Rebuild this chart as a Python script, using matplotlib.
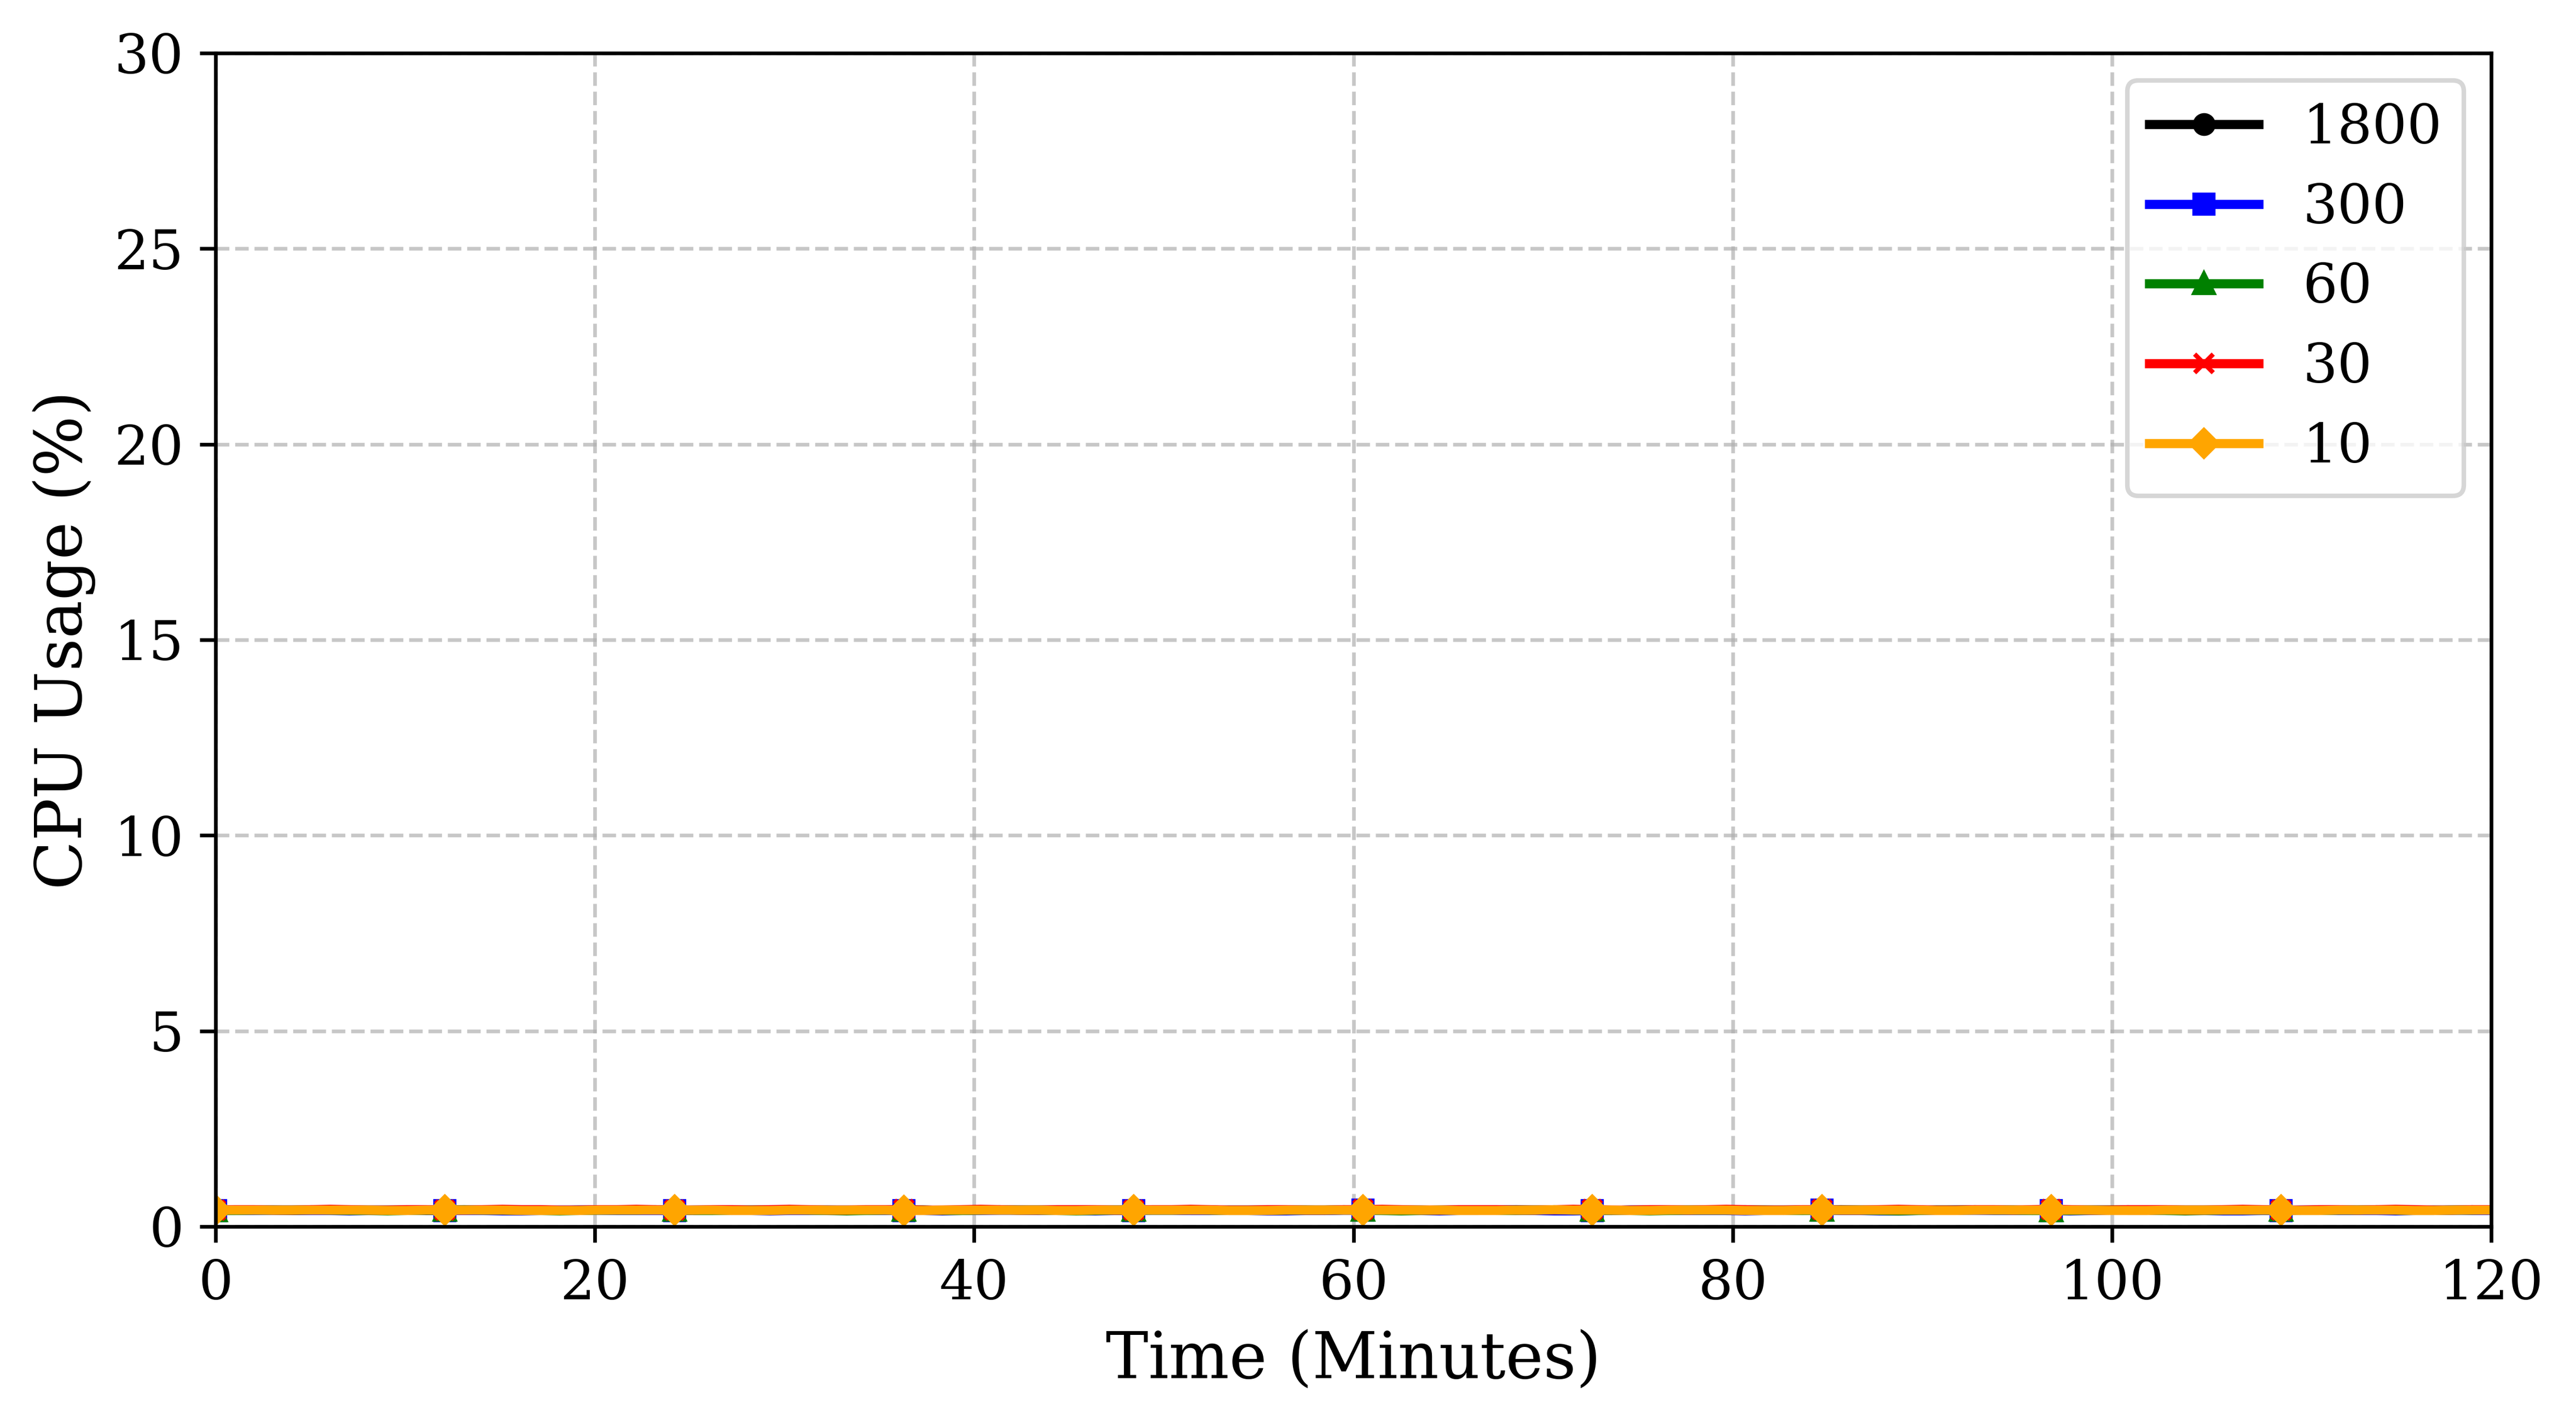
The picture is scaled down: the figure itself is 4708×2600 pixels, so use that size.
import numpy as np
import matplotlib
matplotlib.use("Agg")
import matplotlib.pyplot as plt

plt.rcParams['font.family'] = ['DejaVu Serif']

# Time axis: 120 samples spanning 0..120 minutes
time_min = np.linspace(0, 120, 120)

labels = ["1800", "300", "60", "30", "10"]
colors = ["black", "blue", "green", "red", "orange"]
markers = ["o", "s", "^", "x", "D"]

cpu_1800 = [
    0.42, 0.42, 0.42, 0.42, 0.41, 0.41, 0.42, 0.42, 0.42, 0.42, 0.42, 0.41,
    0.41, 0.42, 0.42, 0.42, 0.42, 0.41, 0.41, 0.42, 0.42, 0.42, 0.42, 0.42,
    0.42, 0.41, 0.41, 0.42, 0.42, 0.42, 0.43, 0.42, 0.42, 0.41, 0.42, 0.42,
    0.42, 0.42, 0.41, 0.41, 0.42, 0.42, 0.42, 0.42, 0.42, 0.41, 0.42, 0.42,
    0.42, 0.42, 0.42, 0.41, 0.41, 0.42, 0.42, 0.42, 0.42, 0.42, 0.41, 0.42,
    0.42, 0.42, 0.42, 0.42, 0.41, 0.41, 0.42, 0.42, 0.43, 0.42, 0.42, 0.42,
    0.41, 0.41, 0.42, 0.42, 0.42, 0.42, 0.42, 0.41, 0.41, 0.42, 0.42, 0.42,
    0.42, 0.43, 0.42, 0.42, 0.41, 0.41, 0.42, 0.42, 0.42, 0.42, 0.42, 0.41,
    0.42, 0.42, 0.42, 0.42, 0.41, 0.41, 0.42, 0.42, 0.42, 0.42, 0.42, 0.42,
    0.41, 0.41, 0.42, 0.42, 0.42, 0.42, 0.41, 0.41, 0.42, 0.42, 0.43, 0.42,
]
cpu_300 = [
    0.41, 0.41, 0.41, 0.42, 0.42, 0.41, 0.41, 0.40, 0.41, 0.41, 0.42, 0.42,
    0.41, 0.41, 0.41, 0.40, 0.40, 0.41, 0.42, 0.42, 0.42, 0.41, 0.41, 0.41,
    0.41, 0.42, 0.42, 0.41, 0.41, 0.40, 0.41, 0.41, 0.42, 0.42, 0.41, 0.41,
    0.41, 0.41, 0.40, 0.41, 0.41, 0.42, 0.42, 0.41, 0.41, 0.41, 0.40, 0.41,
    0.41, 0.42, 0.42, 0.41, 0.41, 0.41, 0.41, 0.40, 0.40, 0.41, 0.41, 0.42,
    0.42, 0.41, 0.41, 0.41, 0.40, 0.41, 0.41, 0.42, 0.42, 0.41, 0.40, 0.40,
    0.41, 0.41, 0.42, 0.42, 0.41, 0.41, 0.41, 0.41, 0.40, 0.41, 0.41, 0.42,
    0.42, 0.41, 0.41, 0.40, 0.40, 0.41, 0.41, 0.42, 0.42, 0.41, 0.41, 0.41,
    0.41, 0.40, 0.41, 0.41, 0.42, 0.42, 0.41, 0.41, 0.41, 0.40, 0.40, 0.41,
    0.41, 0.42, 0.42, 0.41, 0.41, 0.41, 0.40, 0.41, 0.41, 0.42, 0.41, 0.41,
]
cpu_60 = [
    0.41, 0.41, 0.42, 0.42, 0.42, 0.43, 0.42, 0.41, 0.41, 0.40, 0.41, 0.42,
    0.42, 0.43, 0.42, 0.42, 0.41, 0.41, 0.40, 0.41, 0.42, 0.42, 0.42, 0.43,
    0.42, 0.41, 0.41, 0.41, 0.42, 0.42, 0.43, 0.42, 0.41, 0.40, 0.41, 0.42,
    0.42, 0.42, 0.41, 0.41, 0.42, 0.43, 0.42, 0.42, 0.41, 0.40, 0.41, 0.42,
    0.42, 0.42, 0.42, 0.43, 0.42, 0.41, 0.41, 0.41, 0.42, 0.42, 0.42, 0.43,
    0.42, 0.41, 0.40, 0.41, 0.42, 0.42, 0.42, 0.41, 0.41, 0.42, 0.43, 0.42,
    0.42, 0.41, 0.41, 0.40, 0.41, 0.42, 0.42, 0.42, 0.43, 0.42, 0.41, 0.41,
    0.42, 0.42, 0.42, 0.41, 0.40, 0.41, 0.42, 0.42, 0.43, 0.42, 0.42, 0.41,
    0.41, 0.41, 0.42, 0.42, 0.43, 0.42, 0.41, 0.40, 0.41, 0.42, 0.42, 0.42,
    0.42, 0.41, 0.41, 0.42, 0.42, 0.43, 0.42, 0.41, 0.41, 0.42, 0.42, 0.43,
]
cpu_30 = [
    0.42, 0.43, 0.43, 0.42, 0.42, 0.43, 0.44, 0.43, 0.42, 0.42, 0.43, 0.43,
    0.42, 0.42, 0.43, 0.44, 0.43, 0.43, 0.42, 0.42, 0.43, 0.43, 0.44, 0.43,
    0.42, 0.42, 0.43, 0.43, 0.42, 0.43, 0.44, 0.43, 0.42, 0.42, 0.43, 0.43,
    0.43, 0.42, 0.42, 0.43, 0.44, 0.43, 0.42, 0.42, 0.43, 0.43, 0.43, 0.42,
    0.42, 0.43, 0.43, 0.44, 0.43, 0.42, 0.42, 0.43, 0.43, 0.42, 0.42, 0.43,
    0.43, 0.44, 0.43, 0.42, 0.42, 0.43, 0.43, 0.43, 0.42, 0.42, 0.43, 0.44,
    0.43, 0.42, 0.42, 0.43, 0.43, 0.42, 0.43, 0.44, 0.43, 0.42, 0.42, 0.43,
    0.43, 0.42, 0.42, 0.43, 0.44, 0.43, 0.42, 0.42, 0.43, 0.43, 0.42, 0.43,
    0.44, 0.43, 0.42, 0.42, 0.43, 0.43, 0.43, 0.42, 0.42, 0.43, 0.44, 0.43,
    0.42, 0.42, 0.43, 0.43, 0.42, 0.43, 0.44, 0.43, 0.42, 0.42, 0.43, 0.43,
]
cpu_10 = [
    0.42, 0.42, 0.42, 0.42, 0.42, 0.42, 0.42, 0.42, 0.42, 0.41, 0.41, 0.42,
    0.42, 0.42, 0.42, 0.42, 0.41, 0.41, 0.41, 0.41, 0.42, 0.42, 0.42, 0.42,
    0.42, 0.42, 0.42, 0.41, 0.41, 0.41, 0.42, 0.42, 0.42, 0.42, 0.42, 0.42,
    0.41, 0.41, 0.42, 0.42, 0.42, 0.42, 0.42, 0.42, 0.41, 0.41, 0.42, 0.42,
    0.42, 0.42, 0.42, 0.42, 0.42, 0.41, 0.41, 0.41, 0.42, 0.42, 0.42, 0.42,
    0.42, 0.42, 0.42, 0.42, 0.42, 0.41, 0.41, 0.41, 0.42, 0.42, 0.43, 0.42,
    0.42, 0.42, 0.41, 0.41, 0.42, 0.42, 0.42, 0.42, 0.41, 0.41, 0.41, 0.42,
    0.42, 0.42, 0.42, 0.42, 0.42, 0.42, 0.41, 0.41, 0.42, 0.42, 0.42, 0.42,
    0.42, 0.42, 0.42, 0.41, 0.41, 0.41, 0.42, 0.42, 0.42, 0.42, 0.42, 0.42,
    0.42, 0.41, 0.41, 0.42, 0.42, 0.42, 0.42, 0.41, 0.41, 0.42, 0.42, 0.42,
]
series = [cpu_1800, cpu_300, cpu_60, cpu_30, cpu_10]

x_ticks = [0, 20, 40, 60, 80, 100, 120]
y_ticks = [0, 5, 10, 15, 20, 25, 30]

fig = plt.figure(figsize=(4708 / 600, 2600 / 600), dpi=600)
ax = fig.add_axes([394 / 4708, 1 - 2241 / 2600, (4553 - 394) / 4708, (2241 - 97) / 2600])

for vals, lab, col, mk in zip(series, labels, colors, markers):
    ax.plot(time_min, vals, color=col, marker=mk, markersize=4, linewidth=2,
            markevery=12, label=lab)

ax.set_xlim(0, 120)
ax.set_ylim(0, 30)
ax.set_xticks(x_ticks)
ax.set_yticks(y_ticks)
ax.tick_params(labelsize=12)
ax.set_xlabel("Time (Minutes)", fontsize=14)
ax.set_ylabel("CPU Usage (%)", fontsize=14)
ax.grid(True, linestyle='--', alpha=0.7)
ax.legend(loc="upper right", fontsize=12)

fig.savefig("out.png", dpi=600)
